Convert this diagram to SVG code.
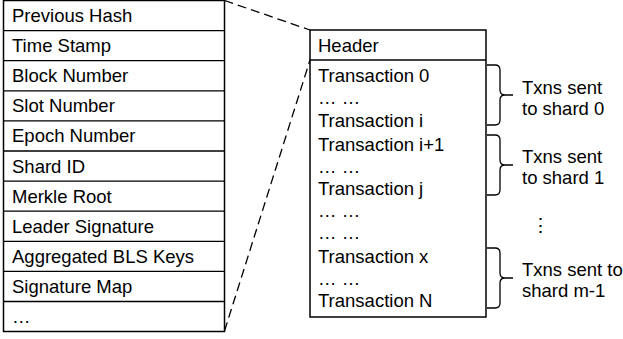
<svg xmlns="http://www.w3.org/2000/svg" width="623" height="339" viewBox="0 0 623 339">
<style>
.box{fill:#fff;stroke:#000;stroke-width:1.5}
.ln{fill:none;stroke:#000;stroke-width:1.3}
.dash{fill:none;stroke:#000;stroke-width:1.3;stroke-dasharray:9 5}
text{font-family:"Liberation Sans",Arial,sans-serif;font-size:18.5px;fill:#000}
</style>
<rect width="623" height="339" fill="#fff"/>
<g id="block-header-fields">
<rect class="box" x="3.5" y="0.5" width="221" height="331"/>
<path class="ln" d="M3.5,30.6H224.5M3.5,60.7H224.5M3.5,90.8H224.5M3.5,120.9H224.5M3.5,151H224.5M3.5,181.1H224.5M3.5,211.2H224.5M3.5,241.3H224.5M3.5,271.4H224.5M3.5,301.5H224.5"/>
<text x="12" y="22">Previous Hash</text>
<text x="12" y="52.1">Time Stamp</text>
<text x="12" y="82.2">Block Number</text>
<text x="12" y="112.3">Slot Number</text>
<text x="12" y="142.4">Epoch Number</text>
<text x="12" y="172.5">Shard ID</text>
<text x="12" y="202.6">Merkle Root</text>
<text x="12" y="232.7">Leader Signature</text>
<text x="12" y="262.8">Aggregated BLS Keys</text>
<text x="12" y="292.9">Signature Map</text>
<text x="12" y="322.5">…</text>
</g>
<g id="block">
<rect class="box" x="310" y="30" width="176" height="287"/>
<path class="ln" d="M310,60H486"/>
<text x="318" y="52">Header</text>
<text x="318" y="82">Transaction 0</text>
<text x="318" y="104">… …</text>
<text x="318" y="127">Transaction i</text>
<text x="318" y="151">Transaction i+1</text>
<text x="318" y="173">… …</text>
<text x="318" y="195">Transaction j</text>
<text x="318" y="217">… …</text>
<text x="318" y="239">… …</text>
<text x="318" y="263">Transaction x</text>
<text x="318" y="285">… …</text>
<text x="318" y="307">Transaction N</text>
</g>
<g id="shard0">
<path class="ln" d="M487,65H495Q500,65 500,70V90Q500,95 505,95H513M505,95Q500,95 500,100V120Q500,125 495,125H487"/>
<text x="522" y="94">Txns sent</text>
<text x="522" y="115">to shard 0</text>
</g>
<g id="shard1">
<path class="ln" d="M487,135H495Q500,135 500,140V160Q500,165 505,165H513M505,165Q500,165 500,170V190Q500,195 495,195H487"/>
<text x="522" y="163">Txns sent</text>
<text x="522" y="184">to shard 1</text>
</g>
<g id="more">
<text x="540" y="232" text-anchor="middle">⋮</text>
</g>
<g id="shardm">
<path class="ln" d="M487,248H495Q500,248 500,253V273Q500,278 505,278H513M505,278Q500,278 500,283V303Q500,308 495,308H487"/>
<text x="522" y="276">Txns sent to</text>
<text x="522" y="297">shard m-1</text>
</g>
<g id="connectors">
<path class="dash" d="M224.5,0.5L310,30"/>
<path class="dash" d="M224.5,331L310,60"/>
</g>
</svg>
